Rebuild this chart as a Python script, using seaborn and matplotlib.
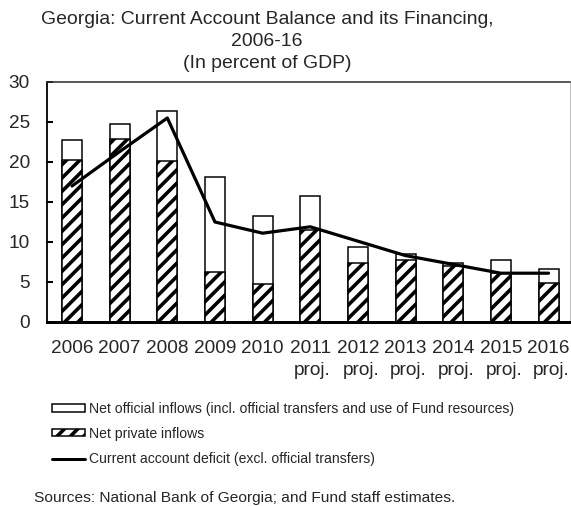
import numpy as np
import pandas as pd
import matplotlib
matplotlib.use("Agg")
import matplotlib.pyplot as plt
import seaborn as sns
from matplotlib.patches import Patch
from matplotlib.lines import Line2D

years = ["2006", "2007", "2008", "2009", "2010", "2011\nproj.", "2012\nproj.",
         "2013\nproj.", "2014\nproj.", "2015\nproj.", "2016\nproj."]
total_inflows = [22.7, 24.7, 26.4, 18.1, 13.3, 15.8, 9.4, 8.5, 7.4, 7.7, 6.6]
private_inflows = [20.3, 22.9, 20.1, 6.3, 4.8, 11.5, 7.4, 7.7, 7.0, 6.1, 4.9]
ca_deficit = [17.0, 21.3, 25.5, 12.5, 11.1, 11.9, 10.1, 8.3, 7.2, 6.1, 6.1]
yticks = [0, 5, 10, 15, 20, 25, 30]

DPI = 80
def pt(px):
    return px * 72.0 / DPI

sns.set_theme(style="white")
plt.rcParams['font.family'] = ['Liberation Sans', 'DejaVu Sans']
plt.rcParams['hatch.linewidth'] = pt(3.6)
plt.rcParams['hatch.color'] = 'black'

df = pd.DataFrame({"year": years, "total": total_inflows,
                   "private": private_inflows, "cad": ca_deficit})

fig = plt.figure(figsize=(571 / DPI, 506 / DPI), dpi=DPI)
ax = fig.add_axes([47 / 571, 184 / 506, 523 / 571, 240 / 506])

sns.barplot(data=df, x="year", y="total", color="white", edgecolor="black",
            linewidth=pt(1.5), width=0.42, ax=ax, saturation=1)
sns.barplot(data=df, x="year", y="private", color="white", edgecolor="black",
            linewidth=pt(1.5), width=0.42, ax=ax, saturation=1, hatch="//")
sns.lineplot(x=np.arange(len(years)), y=df["cad"], color="black",
             linewidth=pt(3.2), ax=ax, legend=False)

ax.set_xlim(-0.525, 10.45)
ax.set_ylim(0, 30)
ax.set_yticks(yticks)
ax.set_yticklabels([str(t) for t in yticks], fontsize=pt(19))
ax.set_xlabel("")
ax.set_ylabel("")
ax.tick_params(axis="x", labelsize=pt(19), length=0, pad=pt(18))
ax.tick_params(axis="y", direction="in", length=pt(6), width=pt(2),
               color="black", pad=pt(17), left=True)
for lbl in ax.get_xticklabels():
    lbl.set_horizontalalignment("center")
    lbl.set_multialignment("right")
    lbl.set_linespacing(1.42)

ax.spines["left"].set_color("black")
ax.spines["left"].set_linewidth(pt(1.8))
ax.spines["top"].set_color("#333333")
ax.spines["top"].set_linewidth(pt(1.6))
ax.spines["right"].set_color("#c0c0c0")
ax.spines["right"].set_linewidth(pt(1.0))
ax.spines["bottom"].set_color("black")
ax.spines["bottom"].set_linewidth(pt(3.0))

fig.text(267 / 571, 1 - 11 / 506,
         "Georgia: Current Account Balance and its Financing,\n2006-16\n(In percent of GDP)",
         ha="center", va="top", fontsize=pt(19.4), linespacing=1.38)

handles = [Patch(facecolor="white", edgecolor="black", linewidth=pt(1.5)),
           Patch(facecolor="white", edgecolor="black", linewidth=pt(1.5), hatch="//"),
           Line2D([0], [0], color="black", linewidth=pt(3.0))]
labels = ["Net official inflows (incl. official transfers and use of Fund resources)",
          "Net private inflows",
          "Current account deficit (excl. official transfers)"]
fig.legend(handles, labels, loc="upper left", bbox_to_anchor=(52 / 571, 1 - 402 / 506),
           frameon=False, fontsize=pt(14), handlelength=2.36, handleheight=0.4,
           handletextpad=0.3, labelspacing=0.78, borderaxespad=0, borderpad=0)

fig.text(34 / 571, 1 - 502 / 506,
         "Sources: National Bank of Georgia; and Fund staff estimates.",
         ha="left", va="baseline", fontsize=pt(15.5))

fig.savefig("out.png", dpi=DPI)
